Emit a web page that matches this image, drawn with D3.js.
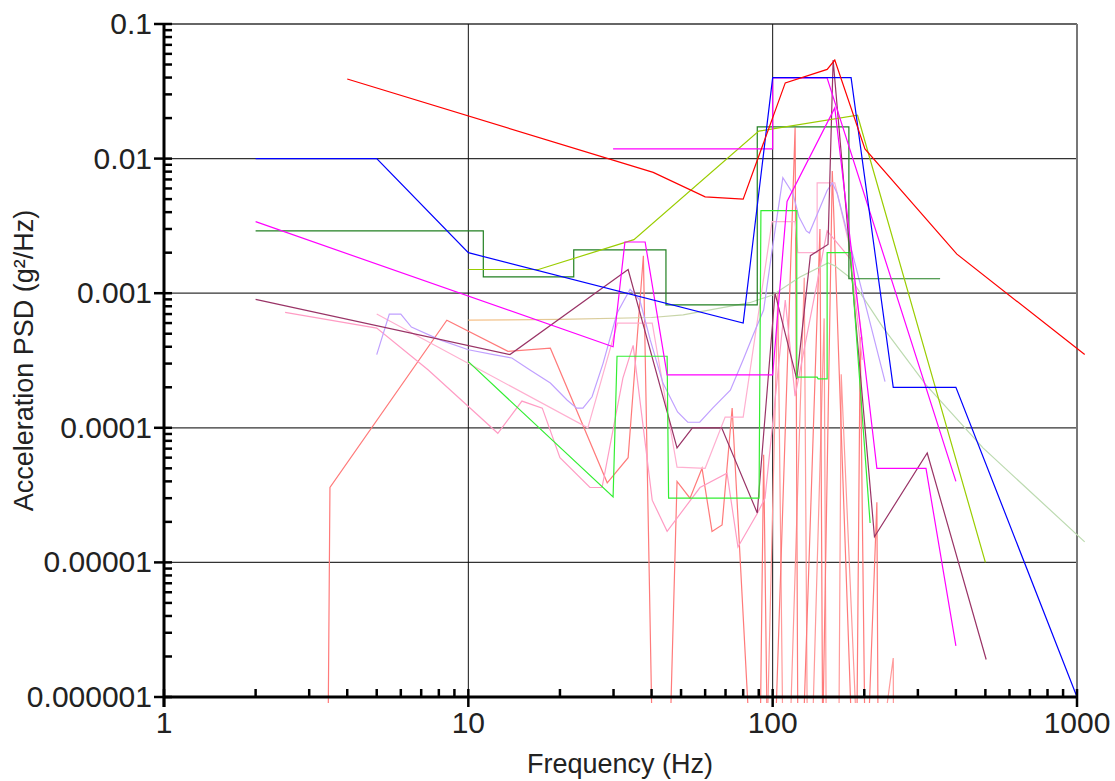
<!DOCTYPE html>
<html>
<head>
<script src="https://d3js.org/d3.v7.min.js"></script>
<style>
  body { margin: 0; background: #fff; }
  text { font-family: Arial, "Liberation Sans", sans-serif; fill: #222; }
  .tick-label { font-size: 30px; }
  .axis-title { font-size: 27px; }
  .series { fill: none; stroke-width: 1.2; stroke-linejoin: miter; }
</style>
</head>
<body>
<svg id="chart" width="1115" height="781"></svg>
<script>
// ---- data: [frequency Hz, PSD g^2/Hz] ----
const redLine = [[4,0.039],[40.5,0.0079],[60,0.0052],[80,0.005],[110,0.0365],[151,0.046],[160,0.054],[201,0.0118],[403,0.00195],[1060,0.00035]];
const blueLine = [[2,0.01],[5,0.01],[10,0.002],[80,0.0006],[100,0.04],[181,0.04],[249,0.0002],[400,0.0002],[1000,0.000001]];
const yellowGreenLine = [[10,0.0015],[17,0.0015],[35,0.0025],[90,0.016],[190,0.021],[500,0.00001]];
const darkGreenLine = [[2,0.0029],[11.2,0.0029],[11.2,0.00132],[22.2,0.00132],[22.2,0.0021],[44.6,0.0021],[44.6,0.00082],[89,0.00082],[89,0.0172],[178,0.0172],[178,0.00128],[355,0.00128]];
const brightGreenLine = [[10,0.00031],[29.9,0.0000306],[30.8,0.00034],[45,0.00034],[45.5,0.00003],[90.2,0.00003],[91.5,0.0041],[120,0.0041],[120,0.000238],[140,0.000238],[141,0.000231],[151,0.000231],[151,0.002],[180,0.002],[209,0.0000196]];
const magentaA = [[2,0.0034],[29.9,0.0004],[32.7,0.0024],[38.1,0.0024],[45,0.000247],[100,0.000247],[111.5,0.0048],[160,0.0238],[220,0.00005],[319,0.00005],[400,0.0000024]];
const magentaB = [[29.9,0.0118],[100,0.0118],[100,0.0397],[151,0.0397],[400,0.00004]];
const maroonLine = [[2,0.0009],[13.7,0.00035],[33.5,0.0015],[48.5,0.000071],[54.5,0.0001],[68,0.0001],[89,0.0000233],[101.8,0.001],[120,0.00023],[133,0.0019],[152,0.0023],[158,0.054],[216,0.0000155],[322,0.000065],[503,0.0000019]];
const lavenderLine = [[5,0.00035],[5.5,0.0007],[6,0.0007],[6.5,0.00056],[8.07,0.00045],[10,0.00038],[12.1,0.00035],[13.9,0.00033],[15.9,0.00027],[18.6,0.000215],[21.1,0.000161],[22.7,0.00014],[23.8,0.00014],[25.5,0.00017],[27.7,0.0003],[30.8,0.00071],[34,0.00107],[36.6,0.00089],[39.6,0.00045],[43.6,0.000215],[48.7,0.000131],[52.6,0.00011],[57.6,0.00011],[63.5,0.00014],[72.6,0.00019],[80,0.00032],[86.6,0.0005],[93.4,0.00075],[99.6,0.0021],[108,0.0072],[116.5,0.0055],[122,0.0037],[129,0.0029],[132,0.0028],[139,0.0037],[151,0.0058],[157,0.0066],[163,0.0055],[234,0.00022]];
const sageLine = [[10,0.00063],[20,0.00064],[40,0.00066],[50.8,0.00069],[84,0.00085],[100,0.00097],[123,0.00132],[152,0.00168],[160,0.0016],[180,0.0013],[230,0.00056],[318,0.00021],[491,0.000071],[1060,0.0000142]];
const pinkA = [[2.5,0.00072],[5,0.00055],[7.37,0.00027],[12.5,0.000091],[15,0.000158],[17.5,0.00014],[20,0.00006],[25.1,0.000036],[27.5,0.000036],[32.2,0.000234],[34.8,0.00041],[40.2,0.000029],[45,0.000017],[57.7,0.000036],[70.8,0.000046],[76.9,0.000013],[88.9,0.000023],[94.4,0.00003],[110,0.00089],[118.5,0.000172],[151,0.0029],[180,0.0018],[197,0.00032]];
const pinkB = [[5,0.0007],[24.7,0.0001],[30.9,0.0006],[40.2,0.0006],[48.5,0.000051],[60,0.00005],[69.8,0.00012],[80,0.00012],[99.5,0.0034],[118.5,0.0034],[121,0.002],[140,0.002],[140,0.0066],[160,0.0066],[180,0.0021],[197,0.00045]];
const salmonA = [[3.46,5e-7],[3.51,0.000036],[8.5,0.00063],[13.5,0.00037],[18.6,0.00039],[28.6,0.000039],[33.5,0.00006],[37.6,0.0019],[40.2,5e-7],[46,5e-7],[48.5,0.00004],[53.5,0.00003],[58.6,0.00005],[63.2,0.000017],[68.2,0.000019],[73.6,0.00014],[84,5e-7],[91,5e-7],[93.4,0.000063],[96,5e-7],[102,5e-7],[118.5,0.017],[121,5e-7],[126,5e-7],[143,0.003],[146,5e-7],[157,0.0081],[182,5e-7],[189,5e-7],[194,0.00047],[201,5e-7],[206,5e-7],[220,0.000028],[222,5e-7]];
const salmonB = [[95.9,5e-7],[104,0.001],[108,5e-7],[114,5e-7],[127,0.0013],[130,5e-7],[135,5e-7],[147.6,0.00065],[150,5e-7],[165,5e-7],[168,0.00025],[189,5e-7],[230,5e-7],[249,0.00000195],[249.5,5e-7]];

const yTickValues = [0.000001, 0.00001, 0.0001, 0.001, 0.01, 0.1];
const yTickLabels = ["0.000001", "0.00001", "0.0001", "0.001", "0.01", "0.1"];
const xTickValues = [1, 10, 100, 1000];
const xTickLabels = ["1", "10", "100", "1000"];

// series styles (drawing order)
const seriesList = [
  {data: salmonB, color: "#ff9a9a"},
  {data: salmonA, color: "#ff7a7a"},
  {data: pinkB, color: "#ffb0d0"},
  {data: pinkA, color: "#ff9cc4"},
  {data: sageLine, color: "url(#sageGrad)"},
  {data: lavenderLine, color: "#c0a0ff"},
  {data: maroonLine, color: "#993366"},
  {data: brightGreenLine, color: "#33ee33"},
  {data: darkGreenLine, color: "#228022"},
  {data: yellowGreenLine, color: "#9acd00"},
  {data: magentaA, color: "#ff00ff"},
  {data: magentaB, color: "#ff00ff"},
  {data: blueLine, color: "#0000ff"},
  {data: redLine, color: "#ff0000"}
];

const svg = d3.select("#chart");
const mLeft = 164, mRight = 1077, mTop = 24, mBottom = 697;

const x = d3.scaleLog().domain([1, 1000]).range([mLeft, mRight]);
const y = d3.scaleLog().domain([0.000001, 0.1]).range([mBottom, mTop]);

const isDecade = d => Number.isInteger(Math.round(Math.log10(d) * 1000) / 1000);

const defs = svg.append("defs");
defs.append("clipPath").attr("id", "plotClip")
  .append("rect").attr("x", mLeft).attr("y", 0).attr("width", 1115 - mLeft).attr("height", mBottom + 6);

const grad = defs.append("linearGradient").attr("id", "sageGrad")
  .attr("gradientUnits", "userSpaceOnUse")
  .attr("x1", x(10)).attr("x2", x(70)).attr("y1", 0).attr("y2", 0);
grad.append("stop").attr("offset", "0%").attr("stop-color", "#f8c088");
grad.append("stop").attr("offset", "100%").attr("stop-color", "#bcdab0");

// grid
svg.append("g").selectAll("line")
  .data(yTickValues)
  .join("line")
  .attr("x1", mLeft).attr("x2", mRight)
  .attr("y1", d => y(d)).attr("y2", d => y(d))
  .attr("stroke", "#333").attr("stroke-width", 1.3);

svg.append("g").selectAll("line")
  .data([10, 100])
  .join("line")
  .attr("x1", d => x(d)).attr("x2", d => x(d))
  .attr("y1", mTop).attr("y2", mBottom)
  .attr("stroke", "#111").attr("stroke-width", 1);

svg.append("line")
  .attr("x1", mRight).attr("x2", mRight).attr("y1", mTop).attr("y2", mBottom)
  .attr("stroke", "#777").attr("stroke-width", 2);

// series
const line = d3.line().x(d => x(d[0])).y(d => y(d[1]));
const plot = svg.append("g").attr("clip-path", "url(#plotClip)");
seriesList.forEach(s => {
  plot.append("path")
    .datum(s.data)
    .attr("class", "series")
    .attr("stroke", s.color)
    .attr("d", line);
});

// axes
svg.append("line").attr("x1", mLeft).attr("x2", mLeft).attr("y1", mTop - 1).attr("y2", mBottom + 10)
  .attr("stroke", "#000").attr("stroke-width", 3);
svg.append("line").attr("x1", mLeft).attr("x2", mRight + 1).attr("y1", mBottom).attr("y2", mBottom)
  .attr("stroke", "#000").attr("stroke-width", 3);

svg.append("g").selectAll("line")
  .data(y.ticks())
  .join("line")
  .attr("x1", d => isDecade(d) ? mLeft - 10 : mLeft)
  .attr("x2", mLeft + 8)
  .attr("y1", d => y(d)).attr("y2", d => y(d))
  .attr("stroke", "#000").attr("stroke-width", 2.5);

svg.append("g").selectAll("line")
  .data(x.ticks())
  .join("line")
  .attr("x1", d => x(d)).attr("x2", d => x(d))
  .attr("y1", mBottom - 8)
  .attr("y2", d => isDecade(d) ? mBottom + 10 : mBottom)
  .attr("stroke", "#000").attr("stroke-width", 2.5);

// tick labels
svg.append("g").selectAll("text")
  .data(yTickValues)
  .join("text")
  .attr("class", "tick-label")
  .attr("x", mLeft - 12)
  .attr("y", d => y(d) + 10)
  .attr("text-anchor", "end")
  .text((d, i) => yTickLabels[i]);

svg.append("g").selectAll("text")
  .data(xTickValues)
  .join("text")
  .attr("class", "tick-label")
  .attr("x", d => x(d))
  .attr("y", mBottom + 36)
  .attr("text-anchor", "middle")
  .text((d, i) => xTickLabels[i]);

// titles
svg.append("text")
  .attr("class", "axis-title")
  .attr("x", 620)
  .attr("y", 773)
  .attr("text-anchor", "middle")
  .text("Frequency (Hz)");

svg.append("text")
  .attr("class", "axis-title")
  .attr("transform", `translate(33,${(mTop + mBottom) / 2}) rotate(-90)`)
  .attr("text-anchor", "middle")
  .text("Acceleration PSD (g²/Hz)");
</script>
</body>
</html>
